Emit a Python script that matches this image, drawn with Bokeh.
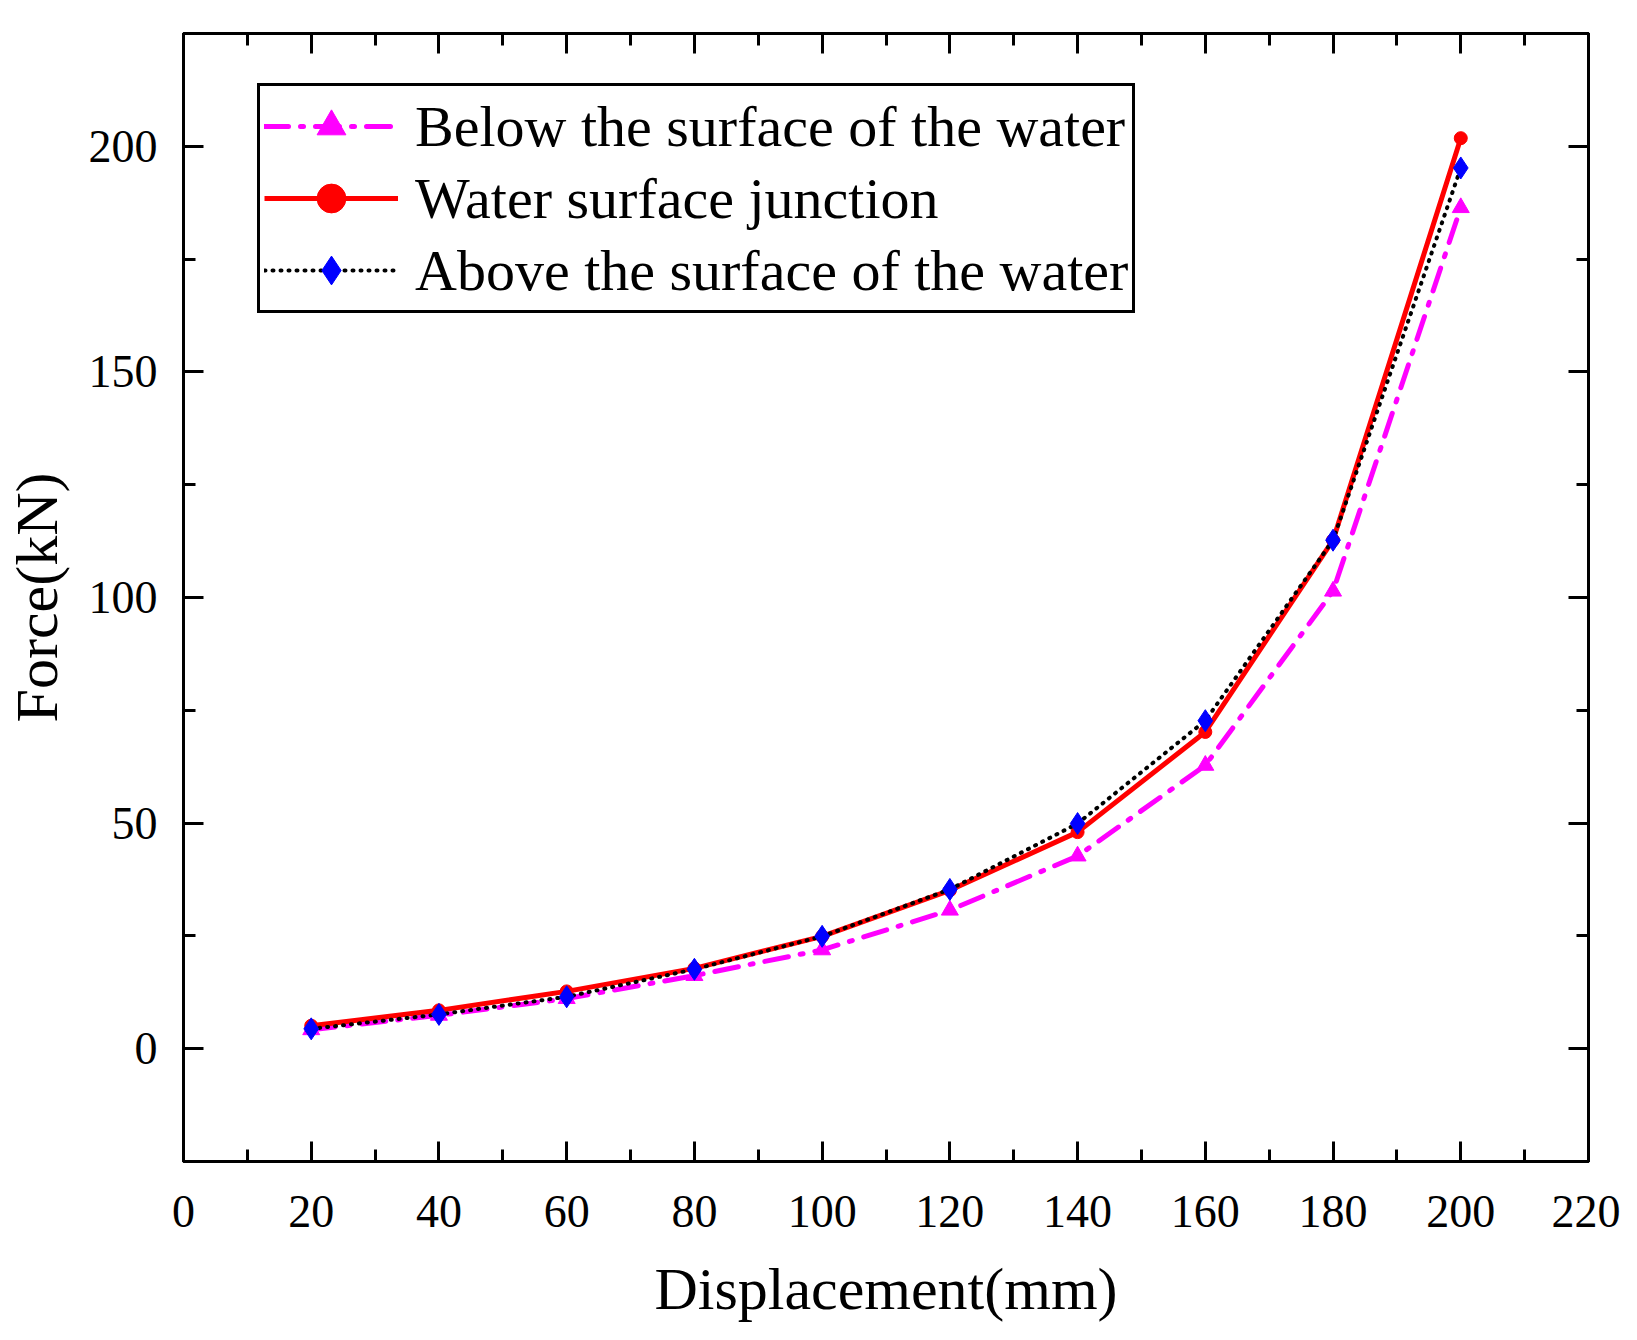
from bokeh.plotting import figure
from bokeh.models import Range1d, LinearAxis, Legend, LegendItem, SingleIntervalTicker
from bokeh.embed import file_html
from bokeh.resources import INLINE

# data
disp = [20, 40, 60, 80, 100, 120, 140, 160, 180, 200]
below = [4.2, 7.4, 11.1, 16.2, 21.9, 30.7, 42.7, 62.8, 101.4, 186.4]
junction = [5.1, 8.5, 12.7, 17.8, 24.9, 35.1, 48.0, 70.2, 112.7, 201.8]
above = [4.4, 7.6, 11.5, 17.6, 24.9, 35.3, 49.9, 72.7, 112.7, 195.2]

FONT = "Liberation Serif"

p = figure(width=1620, height=1324, output_backend="svg", toolbar_location=None,
           x_range=Range1d(0, 220), y_range=Range1d(-25, 225),
           min_border_left=166, min_border_right=32,
           min_border_top=33, min_border_bottom=151)
p.grid.visible = False
p.outline_line_color = "black"
p.outline_line_width = 3

xt = SingleIntervalTicker(interval=20, num_minor_ticks=2)
yt = SingleIntervalTicker(interval=50, num_minor_ticks=2)
p.xaxis.ticker = xt
p.yaxis.ticker = yt

p.add_layout(LinearAxis(ticker=xt), "above")
p.add_layout(LinearAxis(ticker=yt), "right")

for ax in p.xaxis + p.yaxis:
    ax.axis_line_width = 3
    ax.major_tick_line_width = 3
    ax.minor_tick_line_width = 3
    ax.major_tick_in = 20
    ax.major_tick_out = 0
    ax.minor_tick_in = 12
    ax.minor_tick_out = 0
    ax.major_label_text_font = FONT
    ax.major_label_text_font_size = "46px"
    ax.major_label_text_color = "black"
    ax.axis_label_text_font = FONT
    ax.axis_label_text_font_style = "normal"
    ax.axis_label_text_font_size = "60px"
    ax.axis_label_text_color = "black"

# mirrored axes: ticks only
for ax in (p.above[0], p.right[0]):
    ax.major_label_text_font_size = "2px"
    ax.major_label_text_color = None
    ax.major_label_standoff = 0

p.below[0].axis_label = "Displacement(mm)"
p.below[0].major_label_standoff = 34
p.below[0].axis_label_standoff = 26
p.left[0].axis_label = "Force(kN)"
p.left[0].major_label_standoff = 26
p.left[0].axis_label_standoff = 16

l1 = p.line(disp, below, line_color="magenta", line_width=5, line_dash="24 12 3 12", line_cap="round")
m1 = p.scatter(disp, below, marker="triangle", size=17, color="magenta")
l2 = p.line(disp, junction, line_color="red", line_width=5)
m2 = p.scatter(disp, junction, marker="circle", size=13, color="red")
l3 = p.line(disp, above, line_color="black", line_width=4, line_dash="1 7", line_cap="round")
m3 = p.scatter(disp, above, marker="diamond", size=22, color="blue")

legend = Legend(items=[
    LegendItem(label="Below the surface of the water", renderers=[l1, m1]),
    LegendItem(label="Water surface junction", renderers=[l2, m2]),
    LegendItem(label="Above the surface of the water", renderers=[l3, m3]),
], location=(74, 848))
legend.label_text_font = FONT
legend.label_text_font_size = "58px"
legend.label_text_color = "black"
legend.label_height = 72
legend.glyph_height = 72
legend.glyph_width = 134
legend.label_standoff = 17
legend.spacing = 0
legend.padding = 4
legend.border_line_color = "black"
legend.border_line_alpha = 1
legend.border_line_width = 3
legend.background_fill_alpha = 1
p.add_layout(legend, "center")

open("out.html", "w").write(file_html(p, INLINE))
